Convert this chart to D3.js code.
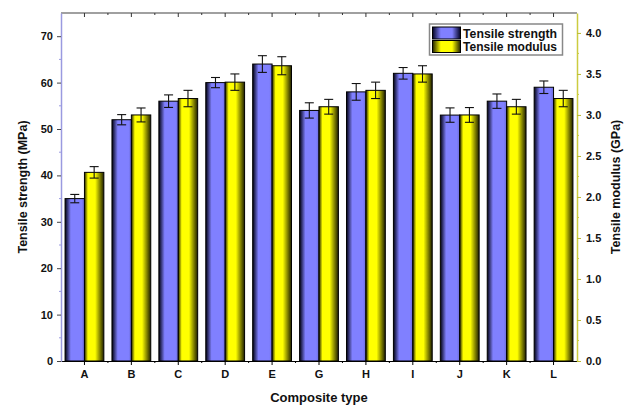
<!DOCTYPE html>
<html>
<head>
<meta charset="utf-8">
<script src="https://cdn.jsdelivr.net/npm/d3@7"></script>
<style>
  body { margin: 0; background: #fff; }
  svg { font-family: "Liberation Sans", Arial, sans-serif; font-weight: bold; }
</style>
</head>
<body>
<svg width="632" height="405"></svg>
<script>
// composite types on the x axis
const categories = ["A", "B", "C", "D", "E", "G", "H", "I", "J", "K", "L"];

// tensile strength (MPa) and its error
const strength = [35, 52, 56, 60, 64, 54, 58, 62, 53, 56, 59];
const strengthErr = [0.9, 1.1, 1.35, 1.1, 1.8, 1.65, 1.8, 1.25, 1.55, 1.55, 1.35];

// tensile modulus (GPa) and its error
const modulus = [2.3, 3.0, 3.2, 3.4, 3.6, 3.1, 3.3, 3.5, 3.0, 3.1, 3.2];
const modulusErr = [0.07, 0.085, 0.1, 0.1, 0.11, 0.09, 0.1, 0.1, 0.09, 0.09, 0.1];

const leftTicks = [0, 10, 20, 30, 40, 50, 60, 70];
const rightTicks = [0, 0.5, 1, 1.5, 2, 2.5, 3, 3.5, 4];

const svg = d3.select("svg");
const m = { left: 61, right: 577, top: 13, bottom: 361 };

const x = d3.scaleBand().domain(categories).range([m.left, m.right]).padding(0);
const yL = d3.scaleLinear().domain([0, 75]).range([m.bottom, m.top]);
const yR = d3.scaleLinear().domain([0, 4.243]).range([m.bottom, m.top]);

// gradients for the bars
const defs = svg.append("defs");
function grad(id, stops) {
  const g = defs.append("linearGradient").attr("id", id)
    .attr("x1", "0%").attr("x2", "100%").attr("y1", "0%").attr("y2", "0%");
  stops.forEach(([o, c]) => g.append("stop").attr("offset", o).attr("stop-color", c));
}
grad("gBlue", [["0%", "#000010"], ["30%", "#8080ff"], ["85%", "#8080ff"], ["100%", "#6a6ad8"]]);
grad("gYellow", [["0%", "#202000"], ["18%", "#ffff00"], ["55%", "#ffff00"], ["100%", "#1e1e00"]]);

const bw = 19.4;
const groups = svg.append("g");

categories.forEach((c, i) => {
  const cx = x(c) + x.bandwidth() / 2;
  const bars = [
    { x0: cx - bw, y: yL(strength[i]), lo: yL(strength[i] - strengthErr[i]), hi: yL(strength[i] + strengthErr[i]), fill: "url(#gBlue)" },
    { x0: cx, y: yR(modulus[i]), lo: yR(modulus[i] - modulusErr[i]), hi: yR(modulus[i] + modulusErr[i]), fill: "url(#gYellow)" }
  ];
  bars.forEach(b => {
    groups.append("rect")
      .attr("x", b.x0).attr("y", b.y)
      .attr("width", bw).attr("height", m.bottom - b.y)
      .attr("fill", b.fill).attr("stroke", "#000").attr("stroke-width", 1);
    const ex = b.x0 + bw / 2;
    const eb = groups.append("g").attr("stroke", "#111").attr("stroke-width", 1.1);
    eb.append("line").attr("x1", ex).attr("x2", ex).attr("y1", b.lo).attr("y2", b.hi);
    eb.append("line").attr("x1", ex - 4.5).attr("x2", ex + 4.5).attr("y1", b.lo).attr("y2", b.lo);
    eb.append("line").attr("x1", ex - 4.5).attr("x2", ex + 4.5).attr("y1", b.hi).attr("y2", b.hi);
  });
});

// top frame with ticks pointing inward
const bounds = categories.map(c => x(c)).slice(1);
svg.append("line").attr("x1", m.left).attr("x2", m.right).attr("y1", m.top).attr("y2", m.top)
  .attr("stroke", "#808080").attr("stroke-width", 1.5);
categories.forEach(c => {
  const cx = x(c) + x.bandwidth() / 2;
  svg.append("line").attr("x1", cx).attr("x2", cx).attr("y1", m.top).attr("y2", m.top + 4).attr("stroke", "#333");
});
bounds.forEach(b => {
  svg.append("line").attr("x1", b).attr("x2", b).attr("y1", m.top).attr("y2", m.top + 2).attr("stroke", "#333");
});

// bottom axis
const xAxis = svg.append("g").attr("transform", `translate(0,${m.bottom})`)
  .call(d3.axisBottom(x).tickSize(4).tickSizeOuter(0));
xAxis.select(".domain").attr("stroke", "#000").attr("stroke-width", 1.2);
xAxis.selectAll("text").attr("font-size", 11).attr("font-weight", "bold").attr("fill", "#111").attr("dy", "0.95em");
xAxis.selectAll("line").attr("stroke", "#000");
bounds.forEach(b => {
  xAxis.append("line").attr("x1", b).attr("x2", b).attr("y1", 0).attr("y2", 2).attr("stroke", "#000");
});

// left axis
const lAxis = svg.append("g").attr("transform", `translate(${m.left},0)`)
  .call(d3.axisLeft(yL).tickValues(leftTicks).tickSize(4).tickSizeOuter(0).tickPadding(4));
lAxis.select(".domain").attr("stroke", "#9a9ae0").attr("stroke-width", 1.5);
lAxis.selectAll(".tick line").attr("stroke", "#444");
lAxis.selectAll("text").attr("font-size", 11).attr("font-weight", "bold").attr("fill", "#111");
d3.range(5, 75, 10).forEach(v => {
  lAxis.append("line").attr("x1", -2).attr("x2", 0).attr("y1", yL(v)).attr("y2", yL(v)).attr("stroke", "#9a9ae0");
});

// right axis
const rAxis = svg.append("g").attr("transform", `translate(${m.right},0)`)
  .call(d3.axisRight(yR).tickValues(rightTicks).tickSize(4).tickSizeOuter(0).tickPadding(5)
    .tickFormat(d3.format(".1f")));
rAxis.select(".domain").attr("stroke", "#cccc40").attr("stroke-width", 1.5);
rAxis.selectAll(".tick line").attr("stroke", "#bbbb30");
rAxis.selectAll("text").attr("font-size", 11).attr("font-weight", "bold").attr("fill", "#111");
d3.range(0.25, 4.25, 0.5).forEach(v => {
  rAxis.append("line").attr("x1", 0).attr("x2", 2).attr("y1", yR(v)).attr("y2", yR(v)).attr("stroke", "#cccc40");
});

// axis titles
svg.append("text").attr("transform", `translate(27,${(m.top + m.bottom) / 2}) rotate(-90)`)
  .attr("text-anchor", "middle").attr("font-size", 12.5).attr("fill", "#111").text("Tensile strength (MPa)");
svg.append("text").attr("transform", `translate(620,${(m.top + m.bottom) / 2}) rotate(-90)`)
  .attr("text-anchor", "middle").attr("font-size", 12.5).attr("fill", "#111").text("Tensile modulus (GPa)");
svg.append("text").attr("x", (m.left + m.right) / 2).attr("y", 402)
  .attr("text-anchor", "middle").attr("font-size", 13).attr("fill", "#111").text("Composite type");

// legend
grad("lBlue", [["0%", "#000020"], ["30%", "#8080ff"], ["70%", "#8080ff"], ["100%", "#000020"]]);
grad("lYellow", [["0%", "#202000"], ["30%", "#ffff00"], ["70%", "#ffff00"], ["100%", "#202000"]]);
const lg = svg.append("g").attr("transform", "translate(429.5,24)");
lg.append("rect").attr("width", 133).attr("height", 31).attr("fill", "#fff")
  .attr("stroke", "#888").attr("stroke-width", 1.5);
[["Tensile strength", "url(#lBlue)"], ["Tensile modulus", "url(#lYellow)"]].forEach(([t, f], i) => {
  lg.append("rect").attr("x", 3).attr("y", 3 + i * 13.5).attr("width", 28).attr("height", 12)
    .attr("fill", f).attr("stroke", "#000");
  lg.append("text").attr("x", 33.5).attr("y", 13.8 + i * 13.5).attr("font-size", 12.2)
    .attr("textLength", 94).attr("lengthAdjust", "spacingAndGlyphs").attr("fill", "#111").text(t);
});
</script>
</body>
</html>
